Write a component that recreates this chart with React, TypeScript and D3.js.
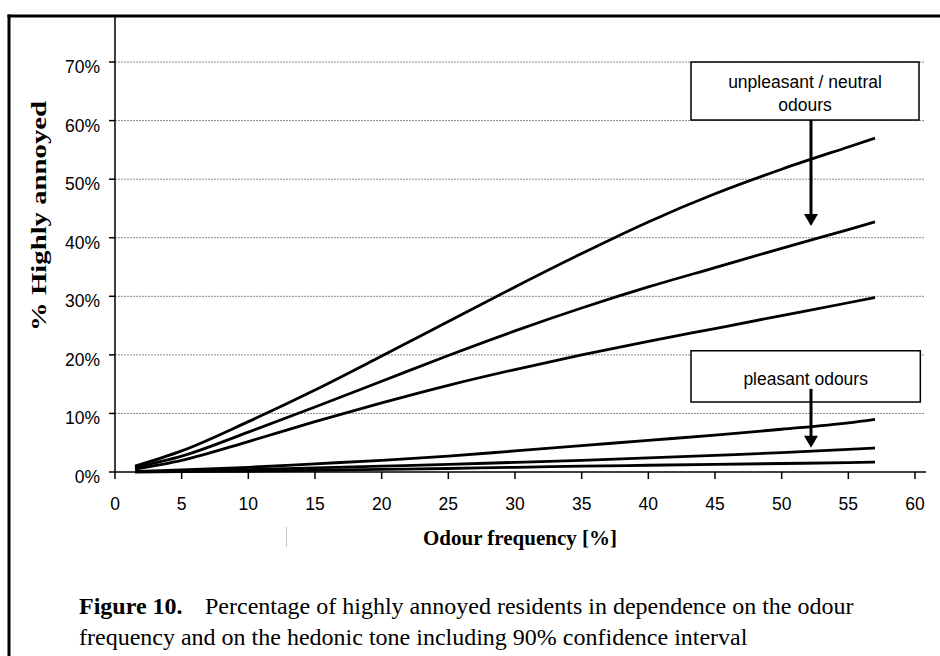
import React from "react";
import * as d3 from "d3";

// Odour frequency [%] at which each curve was read
const freq = [1.5, 5, 10, 15, 20, 25, 30, 35, 40, 45, 50, 55, 57];

// Unpleasant / neutral odours: upper CI, estimate, lower CI (% highly annoyed)
const unpleasantUpper = [1.0, 3.6, 8.6, 14.0, 19.8, 25.7, 31.6, 37.3, 42.7, 47.5, 51.7, 55.5, 57.0];
const unpleasantMid = [0.8, 2.7, 6.8, 11.1, 15.5, 19.9, 24.1, 28.0, 31.6, 34.9, 38.2, 41.4, 42.7];
const unpleasantLower = [0.5, 2.0, 5.2, 8.6, 11.8, 14.8, 17.5, 20.0, 22.3, 24.5, 26.7, 28.9, 29.8];

// Pleasant odours: upper CI, estimate, lower CI
const pleasantUpper = [0.1, 0.35, 0.8, 1.4, 2.0, 2.7, 3.6, 4.5, 5.4, 6.3, 7.3, 8.4, 9.0];
const pleasantMid = [0.05, 0.15, 0.4, 0.7, 1.0, 1.3, 1.65, 2.0, 2.4, 2.85, 3.3, 3.85, 4.1];
const pleasantLower = [0.0, 0.05, 0.15, 0.3, 0.45, 0.6, 0.8, 1.0, 1.15, 1.3, 1.45, 1.6, 1.7];

const xTicks = [0, 5, 10, 15, 20, 25, 30, 35, 40, 45, 50, 55, 60];
const yTicks = [0, 10, 20, 30, 40, 50, 60, 70];
const gridTicks = [10, 20, 30, 40, 50, 60, 70];

const xAxisTitle = "Odour frequency [%]";
const yAxisTitle = "% Highly annoyed";
const captionBold = "Figure 10.";
const captionLine1 = "Percentage of highly annoyed residents in dependence on the odour";
const captionLine2 = "frequency and on the hedonic tone including 90% confidence interval";

const boxUnpleasantLines = ["unpleasant / neutral", "odours"];
const boxPleasantLines = ["pleasant odours"];

const series = [
  unpleasantUpper,
  unpleasantMid,
  unpleasantLower,
  pleasantUpper,
  pleasantMid,
  pleasantLower,
];

const SANS = "'Liberation Sans', Arial, sans-serif";
const SERIF = "'Liberation Serif', 'Times New Roman', serif";

export default function App() {
  const x = d3.scaleLinear().domain([0, 60]).range([115, 915]);
  const y = d3.scaleLinear().domain([0, 78]).range([472, 15.2]);

  const line = d3
    .line<[number, number]>()
    .x((d) => x(d[0]))
    .y((d) => y(d[1]))
    .curve(d3.curveMonotoneX);

  const arrowX = 52.2;

  const box1 = { x0: 43.2, x1: 60.3, y0: 70, y1: 60.1 };
  const box2 = { x0: 43.2, x1: 60.4, y0: 20.7, y1: 11.95 };

  const arrowHead = (tipX: number, tipY: number) =>
    `M${tipX - 7},${tipY - 12}L${tipX + 7},${tipY - 12}L${tipX},${tipY}Z`;

  return (
    <svg
      width={940}
      height={656}
      style={{ position: "absolute", left: 0, top: 0, background: "#fff" }}
    >
      <rect x={0} y={0} width={940} height={656} fill="#fff" />
      {/* frame */}
      <line x1={7.5} x2={940} y1={16} y2={16} stroke="#000" strokeWidth={3} />
      <line x1={9} x2={9} y1={14.5} y2={656} stroke="#000" strokeWidth={3} />

      {/* gridlines */}
      {gridTicks.map((t) => (
        <line
          key={"g" + t}
          x1={x(0)}
          x2={924}
          y1={y(t)}
          y2={y(t)}
          stroke="#8a8a8a"
          strokeWidth={1}
          strokeDasharray="2,1"
        />
      ))}

      {/* axes */}
      <line x1={x(0)} x2={x(0)} y1={y(78)} y2={y(0)} stroke="#000" strokeWidth={1.5} />
      <line x1={x(0)} x2={926} y1={y(0)} y2={y(0)} stroke="#000" strokeWidth={1.5} />
      {yTicks.map((t) => (
        <g key={"yt" + t}>
          <line x1={x(0) - 6} x2={x(0)} y1={y(t)} y2={y(t)} stroke="#000" strokeWidth={1.5} />
          <text
            x={x(0) - 15}
            y={y(t) + 11}
            textAnchor="end"
            fontFamily={SANS}
            fontSize={17.5}
            fill="#000"
          >
            {t + "%"}
          </text>
        </g>
      ))}
      {xTicks.map((t) => (
        <g key={"xt" + t}>
          <line x1={x(t)} x2={x(t)} y1={y(0)} y2={y(0) + 7} stroke="#000" strokeWidth={1.5} />
          <text
            x={x(t)}
            y={510}
            textAnchor="middle"
            fontFamily={SANS}
            fontSize={17.5}
            fill="#000"
          >
            {t}
          </text>
        </g>
      ))}

      {/* small artefact line */}
      <line x1={286.5} x2={286.5} y1={527} y2={547} stroke="#c8c8c8" strokeWidth={1} />

      {/* curves */}
      {series.map((s, i) => (
        <path
          key={"s" + i}
          d={line(freq.map((f, j) => [f, s[j]] as [number, number])) || ""}
          fill="none"
          stroke="#000"
          strokeWidth={2.8}
        />
      ))}

      {/* annotation boxes */}
      <rect
        x={x(box1.x0)}
        y={y(box1.y0)}
        width={x(box1.x1) - x(box1.x0)}
        height={y(box1.y1) - y(box1.y0)}
        fill="#fff"
        stroke="#000"
        strokeWidth={1.5}
      />
      {boxUnpleasantLines.map((l, i) => (
        <text
          key={"b1" + i}
          x={x(51.75)}
          y={88 + i * 22.5}
          textAnchor="middle"
          fontFamily={SANS}
          fontSize={17.5}
          fill="#000"
        >
          {l}
        </text>
      ))}
      <rect
        x={x(box2.x0)}
        y={y(box2.y0)}
        width={x(box2.x1) - x(box2.x0)}
        height={y(box2.y1) - y(box2.y0)}
        fill="#fff"
        stroke="#000"
        strokeWidth={1.5}
      />
      {boxPleasantLines.map((l, i) => (
        <text
          key={"b2" + i}
          x={x(51.8)}
          y={385}
          textAnchor="middle"
          fontFamily={SANS}
          fontSize={17.5}
          fill="#000"
        >
          {l}
        </text>
      ))}

      {/* arrows */}
      <line x1={x(arrowX)} x2={x(arrowX)} y1={y(60.1)} y2={y(42) - 11} stroke="#000" strokeWidth={3} />
      <path d={arrowHead(x(arrowX), y(42))} fill="#000" />
      <line x1={x(arrowX)} x2={x(arrowX)} y1={y(14.2)} y2={y(4.15) - 11} stroke="#000" strokeWidth={3} />
      <path d={arrowHead(x(arrowX), y(4.15))} fill="#000" />

      {/* axis titles */}
      <text
        x={520}
        y={545}
        textAnchor="middle"
        fontFamily={SERIF}
        fontWeight="bold"
        fontSize={21}
        fill="#000"
      >
        {xAxisTitle}
      </text>
      <text
        transform="translate(46,216) rotate(-90)"
        textAnchor="middle"
        fontFamily={SERIF}
        fontWeight="bold"
        fontSize={22}
        textLength={230}
        lengthAdjust="spacingAndGlyphs"
        fill="#000"
      >
        {yAxisTitle}
      </text>

      {/* caption */}
      <text x={79} y={614} fontFamily={SERIF} fontSize={24} fill="#000">
        <tspan fontWeight="bold">{captionBold}</tspan>
        <tspan x={205}>{captionLine1}</tspan>
      </text>
      <text x={79} y={645} fontFamily={SERIF} fontSize={24} fill="#000">
        {captionLine2}
      </text>
    </svg>
  );
}
